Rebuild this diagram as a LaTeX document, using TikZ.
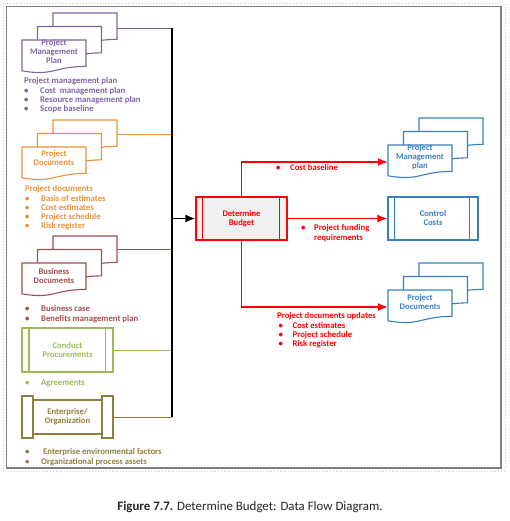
\documentclass[tikz,border=0pt]{standalone}
\usepackage{fontspec}
\setmainfont{Carlito}
\usetikzlibrary{arrows.meta,calc}

\definecolor{pmpcol}{HTML}{8064A2}
\definecolor{pdcol}{HTML}{E8913A}
\definecolor{bdcol}{HTML}{A0504E}
\definecolor{cpcol}{HTML}{9BBB59}
\definecolor{eocol}{HTML}{937D3E}
\definecolor{outcol}{HTML}{3A7EC0}
\definecolor{framecol}{HTML}{7F7F7F}

\tikzset{
  docline/.style={line width=1.1pt},
  feedline/.style={line width=0.9pt},
  shapetext/.style={font=\bfseries\fontsize{8.6}{9}\selectfont, align=center, inner sep=0pt},
  listtext/.style={font=\bfseries\fontsize{8.7}{9.25}\selectfont, align=left, inner sep=0pt, anchor=north west},
  procbox/.style={draw=#1, text=#1, line width=1.1pt, minimum width=91pt, minimum height=43pt, fill=white, shapetext},
  outarrow/.style={red, line width=1.8pt, -{Latex[length=10pt,width=8pt]}},
}

\newcommand{\bul}[1][16pt]{\makebox[#1][l]{\textbullet}}

% one sheet with a wavy lower edge, top left corner at (#2,#3)
\newcommand{\docsheet}[3]{%
  \draw[#1, docline, fill=white] (#2,#3) -- (#2+64,#3) -- (#2+64,#3+26.4)
    .. controls (#2+32,#3+26.4) and (#2+32,#3+36.5) .. (#2,#3+30.8) -- cycle;}
% three sheets, front one at (#2,#3)
\newcommand{\docstack}[3]{%
  \docsheet{#1}{#2+31}{#3-27}
  \docsheet{#1}{#2+15.5}{#3-13.5}
  \docsheet{#1}{#2}{#3}}

\begin{document}
\begin{tikzpicture}[x=1pt,y=-1pt]
	\useasboundingbox (0,0) rectangle (510,521);
	
	% frame
	\draw[gray!40, dotted, line width=0.8pt] (3,3) rectangle (505,471);
	\draw[framecol, line width=1.6pt] (6.5,6.5) rectangle (501,468);
	
	% inputs
	\coordinate (busTop) at (172,28);
	\coordinate (busBot) at (172,417);
	
	\docstack{pmpcol}{22}{40}
	\node[shapetext, text=pmpcol] (pmpIn) at (54,52) {Project\\Management\\Plan};
	\coordinate (pmpOut) at (117,28);
	\node[listtext, text=pmpcol] (pmpList) at (24,77.5) {Project management plan\\\bul Cost~ management plan\\\bul Resource management plan\\\bul Scope baseline};
	
	\docstack{pdcol}{22}{147}
	\node[shapetext, text=pdcol] (pdIn) at (54,158.5) {Project\\Documents};
	\coordinate (pdOut) at (117,134);
	\node[listtext, text=pdcol] (pdList) at (25,185.5) {Project documents\\\bul Basis of estimates\\\bul Cost estimates\\\bul Project schedule\\\bul Risk register};
	
	\docstack{bdcol}{22}{263}
	\node[shapetext, text=bdcol] (bdIn) at (54,276.5) {Business\\Documents};
	\coordinate (bdOut) at (117,249.5);
	\node[listtext, text=bdcol] (bdList) at (25,305.5) {\bul Business case\\\bul Benefits management plan};
	
	\node[procbox=cpcol, minimum height=44pt] (cp) at (67.5,350) {Conduct\\Procurements};
	\draw[cpcol, docline] ([xshift=7.5pt]cp.north west) -- ([xshift=7.5pt]cp.south west);
	\draw[cpcol, docline] ([xshift=-8pt]cp.north east) -- ([xshift=-8pt]cp.south east);
	\node[listtext, text=cpcol] (cpList) at (25,379.5) {\bul Agreements};
	
	\draw[eocol, docline, fill=white] (22,396) rectangle (33,438);
	\draw[eocol, docline, fill=white] (102,396) rectangle (113,438);
	\node[draw=eocol, docline, fill=white, minimum width=69pt, minimum height=34pt, shapetext, text=eocol] (eo) at (67.5,417) {Enterprise/\\Organization};
	\coordinate (eoOut) at (113,417);
	\node[listtext, text=eocol] (eoList) at (25,448.5) {\bul[18pt]Enterprise environmental factors\\\bul Organizational process assets};
	
	% feeds into the bus
	\draw[pmpcol, feedline] (pmpOut) -- (pmpOut -| busTop);
	\draw[pdcol, feedline] (pdOut) -- (pdOut -| busTop);
	\draw[bdcol, feedline] (bdOut) -- (bdOut -| busTop);
	\draw[cpcol, feedline] (cp.east) -- (cp.east -| busTop);
	\draw[eocol, feedline] (eoOut) -- (busBot);
	\draw[line width=2.4pt] (busTop) -- (busBot);
	
	% process
	\node[procbox=red, fill=gray!12] (db) at (241.5,218.5) {Determine\\Budget};
	\draw[red, docline] ([xshift=7pt]db.north west) -- ([xshift=7pt]db.south west);
	\draw[red, docline] ([xshift=-8pt]db.north east) -- ([xshift=-8pt]db.south east);
	\draw[line width=1.8pt, -{Latex[length=10pt,width=8pt]}] (db.west -| busTop) -- (db.west);
	
	% outputs
	\docstack{outcol}{388}{145}
	\node[shapetext, text=outcol] (pmpRes) at (420,157) {Project\\Management\\plan};
	\coordinate (pmpIn2) at (388,162);
	
	\node[procbox=outcol, minimum width=90pt] (cc) at (433,218.5) {Control\\Costs};
	\draw[outcol, docline] ([xshift=7pt]cc.north west) -- ([xshift=7pt]cc.south west);
	\draw[outcol, docline] ([xshift=-9pt]cc.north east) -- ([xshift=-9pt]cc.south east);
	
	\docstack{outcol}{388}{290}
	\node[shapetext, text=outcol] (pdRes) at (420,302.5) {Project\\Documents};
	\coordinate (pdIn2) at (388,307);
	
	\draw[outarrow] (db.north) |- (pmpIn2);
	\draw[outarrow] (db.east) -- (cc.west);
	\draw[outarrow] (db.south) |- (pdIn2);
	
	\node[listtext, text=red] (cbLbl) at (276,164.5) {\bul[14pt]Cost baseline};
	\node[listtext, text=red] (pfLbl) at (301,224.5) {\bul[13pt]Project funding\\\hspace*{13pt}requirements};
	\node[listtext, text=red] (puLbl) at (277,312.5) {Project documents updates\\\hspace*{1.5pt}\bul[14pt]Cost estimates\\\hspace*{1.5pt}\bul[14pt]Project schedule\\\hspace*{1.5pt}\bul[14pt]Risk register};
	
	% caption
	\node[font=\fontsize{12.9}{15}\selectfont, text=black!85] (cap) at (250,507) {\textbf{Figure 7.7.} Determine Budget: Data Flow Diagram.};
\end{tikzpicture}
\end{document}
